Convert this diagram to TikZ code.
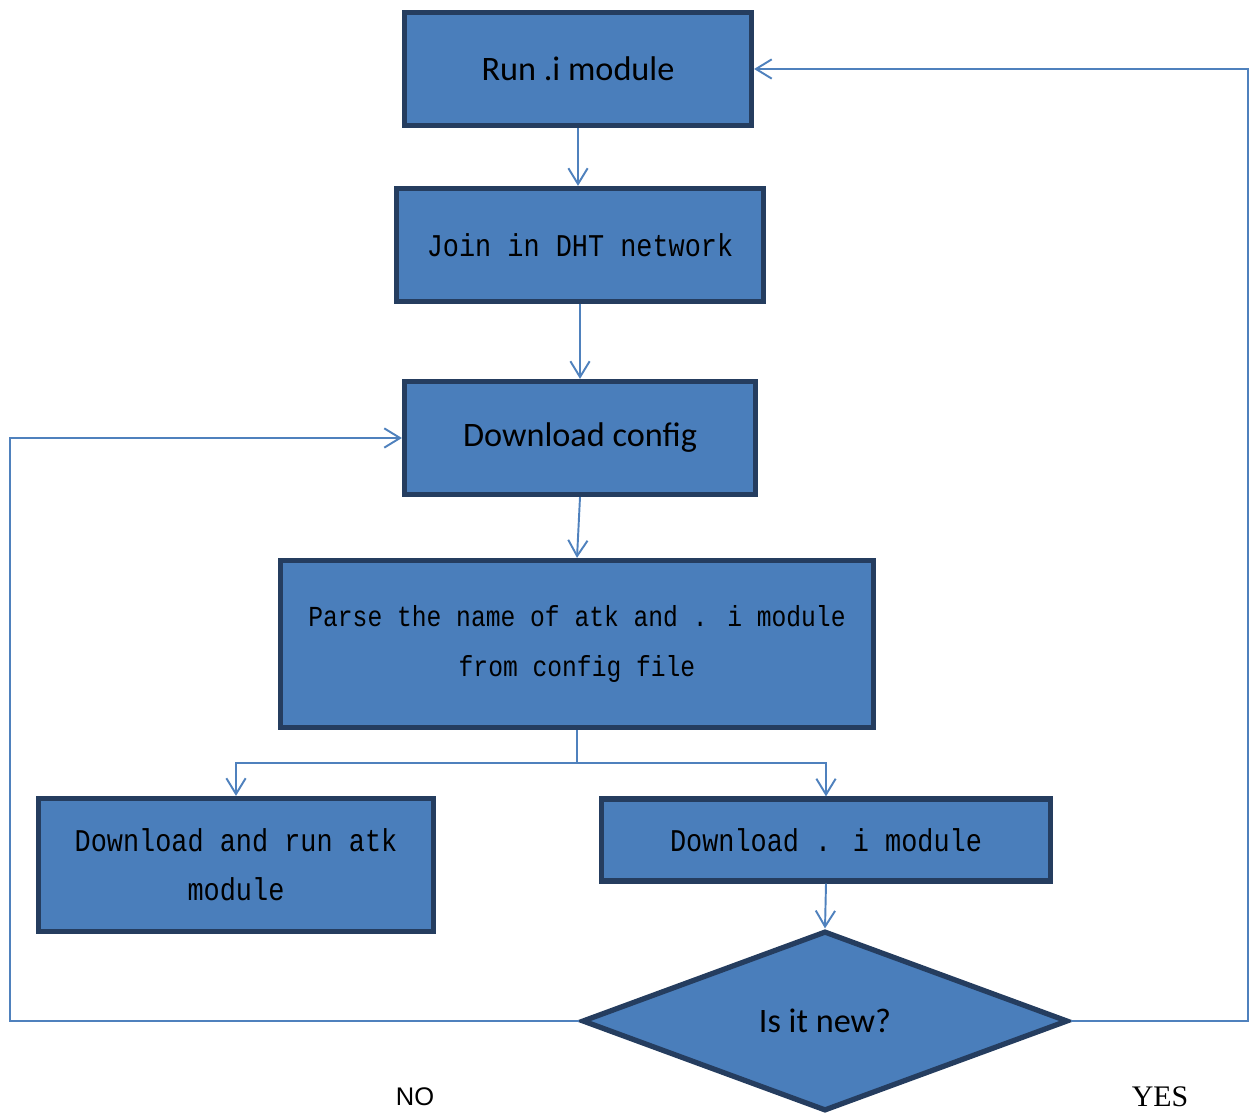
\documentclass[tikz,border=0pt]{standalone}
\usepackage{fontspec}
\setmainfont{Carlito}
\newfontfamily\monofont[FakeStretch=0.85]{Liberation Mono}
\newfontfamily\arialfont{Liberation Sans}
\newfontfamily\timesfont{Liberation Serif}
\usetikzlibrary{shapes.geometric,arrows.meta}
\definecolor{boxblue}{HTML}{4A7EBB}
\definecolor{boxedge}{HTML}{253D5F}
\definecolor{linkblue}{HTML}{4F81BD}
\begin{document}
\begin{tikzpicture}[x=0.02cm, y=-0.02cm, line join=miter,
    stepbox/.style={draw=boxedge, fill=boxblue, line width=3pt, inner sep=0pt, align=center},
    calfont/.style={font=\fontsize{19.5}{22}\selectfont},
    sunfont/.style={font=\monofont\fontsize{18}{28}\selectfont},
    decision/.style={diamond, draw=boxedge, fill=boxblue, line width=3pt, inner sep=0pt,
      minimum width=9.72cm, minimum height=3.6cm, font=\fontsize{19.5}{22}\selectfont},
    link/.style={draw=linkblue, line width=1.1pt, -{Straight Barb[length=9pt,width=11pt]}},
    flat/.style={draw=linkblue, line width=1.1pt}]
  \useasboundingbox (0,0) rectangle (1250,1114);
  % boxes
  \node[stepbox, calfont, minimum width=6.94cm, minimum height=2.26cm] (run) at (578,69) {Run .i module};
  \node[stepbox, sunfont, minimum width=7.34cm, minimum height=2.26cm] (join) at (580,245) {Join in DHT network};
  \node[stepbox, calfont, minimum width=7.02cm, minimum height=2.26cm] (cfg) at (580,438) {Download config};
  \node[stepbox, sunfont, font=\monofont\fontsize{16.5}{28}\selectfont,
    minimum width=11.86cm, minimum height=3.34cm] (parse) at (577,644)
    {Parse the name of atk and . i module\\from config file};
  \node[stepbox, sunfont, minimum width=7.9cm, minimum height=2.66cm] (atk) at (236,865)
    {Download and run atk\\module};
  \node[stepbox, sunfont, minimum width=8.98cm, minimum height=1.64cm] (imod) at (826,840) {Download . i module};
  \node[decision] (new) at (825,1021) {Is it new?};
  % free corners
  \coordinate (split) at (577,763);
  \coordinate (lbus) at (10,1021);
  \coordinate (rbus) at (1248,1021);
  % connectors
  \draw[link] (run.south) -- (run.south |- join.north);
  \draw[link] (join.south) -- (join.south |- cfg.north);
  \draw[link] (cfg.south) -- (parse.north);
  \draw[flat] (parse.south) -- (split);
  \draw[link] (split) -| (atk.north);
  \draw[link] (split) -| (imod.north);
  \draw[link] (imod.south) -- (new.north);
  \draw[link] (new.west) -- (lbus) |- (cfg.west);
  \draw[link] (new.east) -- (rbus) |- (run.east);
  % answers
  \node[font=\arialfont\fontsize{14.5}{16}\selectfont] (no) at (415,1097) {NO};
  \node[font=\timesfont\fontsize{17}{19}\selectfont] (yes) at (1160,1097) {YES};
\end{tikzpicture}
\end{document}
